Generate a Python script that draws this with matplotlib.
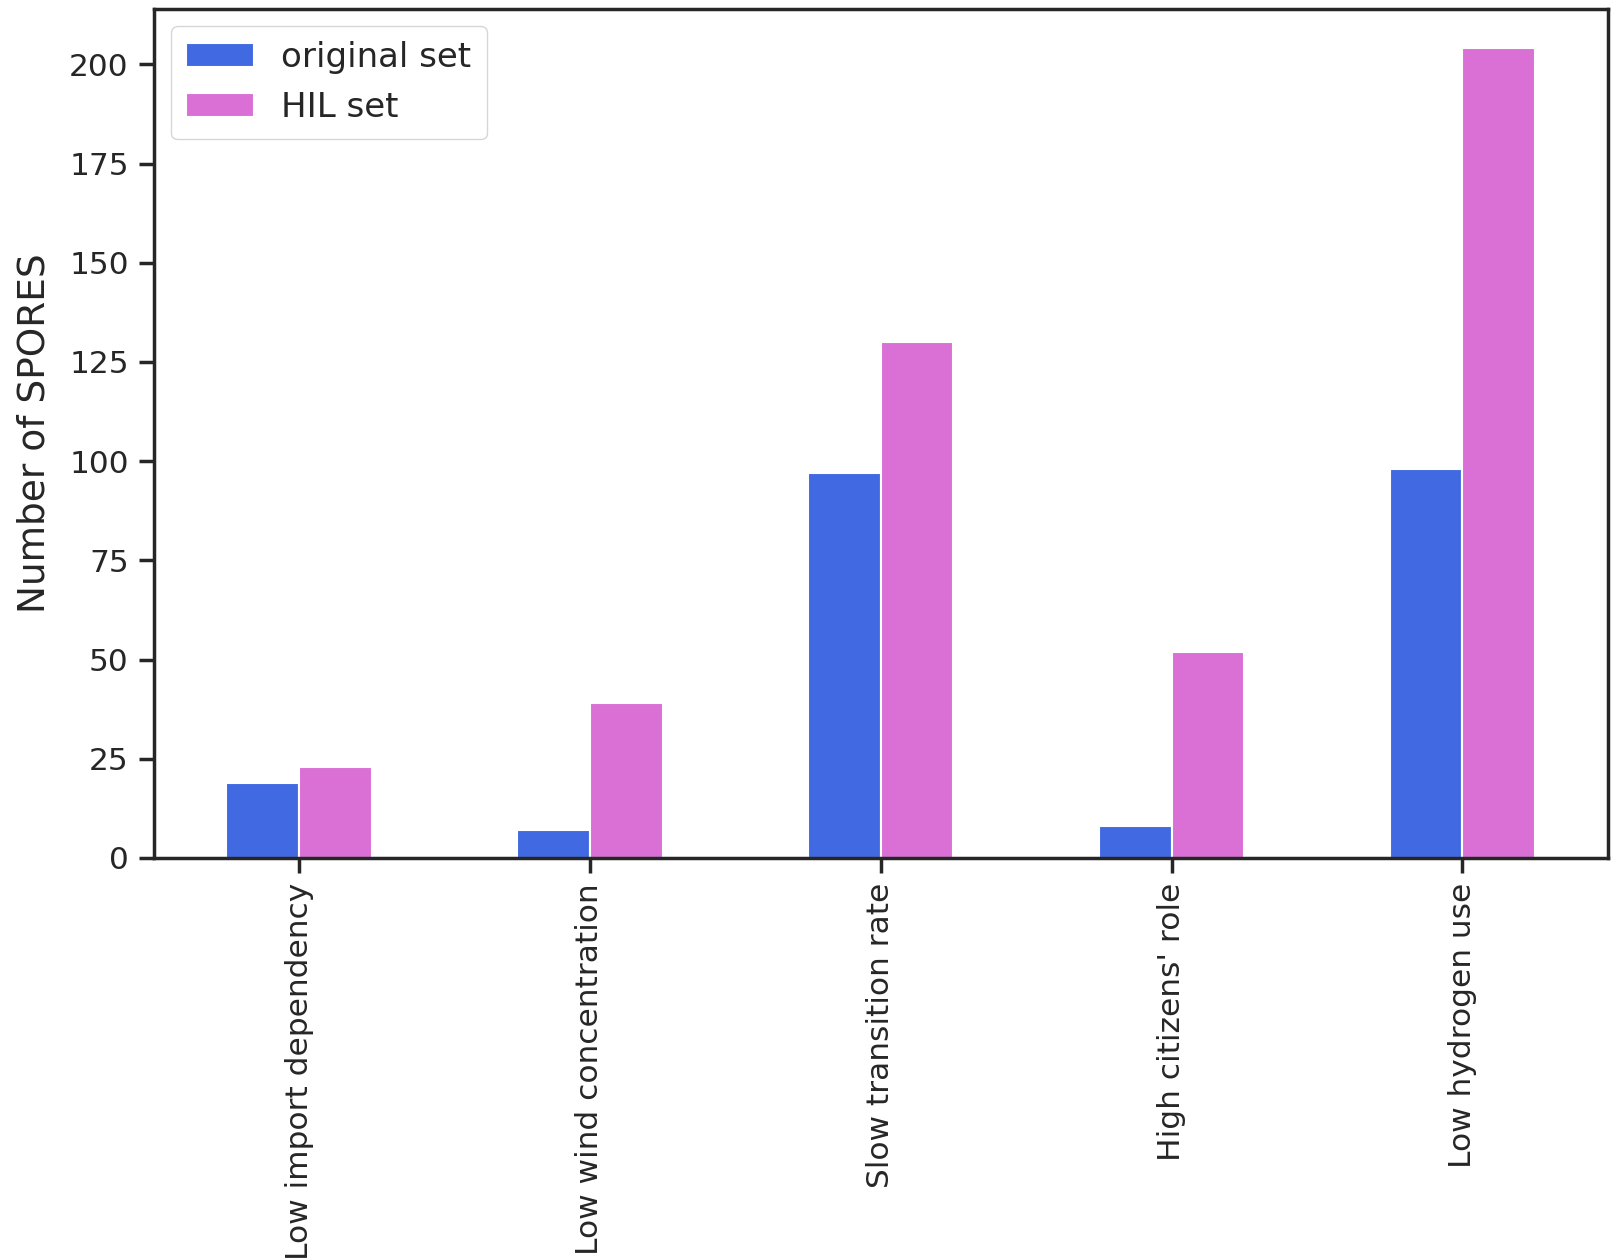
import matplotlib
matplotlib.use("Agg")
import matplotlib.pyplot as plt
import pandas as pd
import seaborn as sns

categories = ["Low import dependency", "Low wind concentration", "Slow transition rate",
              "High citizens' role", "Low hydrogen use"]
original_set = [19, 7, 97, 8, 98]
hil_set = [23, 39, 130, 52, 204]

sns.set_style("ticks")
plt.rcParams['font.family'] = ['DejaVu Sans']

df = pd.DataFrame({"original set": original_set, "HIL set": hil_set}, index=categories)

fig, ax = plt.subplots(figsize=(16.19, 12.58), dpi=100)
df.plot.bar(ax=ax, color=["royalblue", "orchid"], width=0.5, edgecolor="white", linewidth=1.5)

ax.set_ylabel("Number of SPORES", fontsize=27, labelpad=12)
ax.tick_params(axis="both", labelsize=22.5, width=2.5, length=11, pad=7)
ax.tick_params(axis="x", rotation=90)
for sp in ax.spines.values():
    sp.set_linewidth(2.5)
    sp.set_color("#262626")
ax.set_yticks([0, 25, 50, 75, 100, 125, 150, 175, 200])
ax.set_ylim(0, 214)
ax.legend(loc="upper left", fontsize=24.5, frameon=True, borderpad=0.45)

fig.subplots_adjust(left=0.095, right=0.993, top=0.993, bottom=0.318)
fig.savefig("out.png", dpi=100)
